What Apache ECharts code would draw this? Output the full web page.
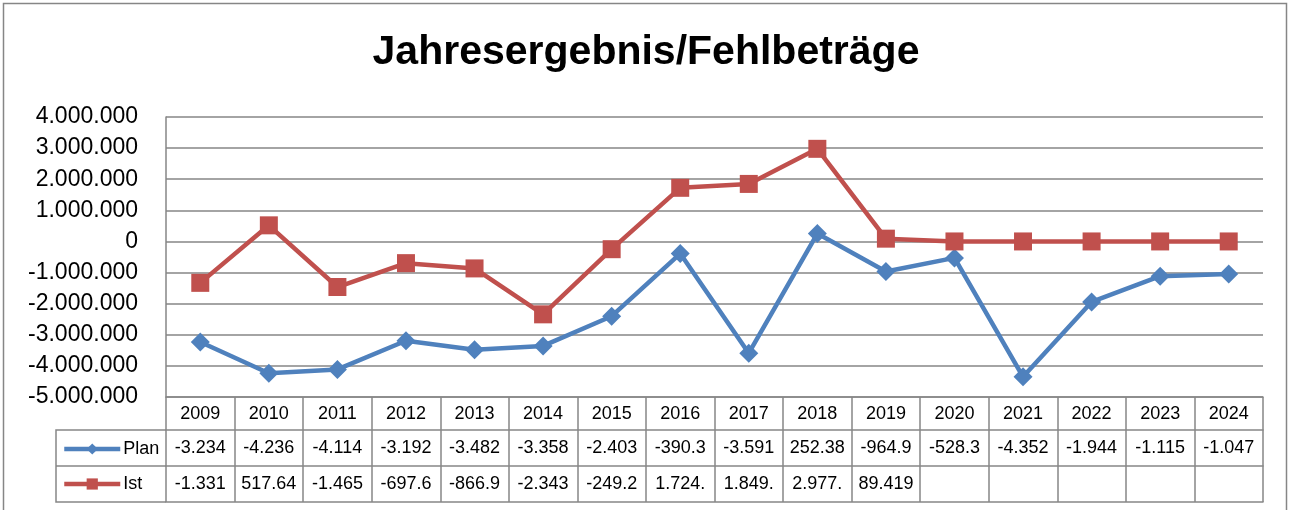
<!DOCTYPE html>
<html>
<head>
<meta charset="utf-8">
<title>Jahresergebnis/Fehlbeträge</title>
<script src="https://cdn.jsdelivr.net/npm/echarts@6/dist/echarts.min.js"></script>
<style>
  * { box-sizing: border-box; margin: 0; padding: 0; }
  html, body { background: #fff; }
  #chart { width: 1292px; height: 510px; }
</style>
</head>
<body>
<div id="chart"></div>
<script>
  // Werte aus der Tabelle unter dem Diagramm
  const years = ['2009', '2010', '2011', '2012', '2013', '2014', '2015', '2016',
                 '2017', '2018', '2019', '2020', '2021', '2022', '2023', '2024'];
  const planValues = [-3234000, -4236000, -4114000, -3192000, -3482000, -3358000, -2403000, -390300,
                      -3591000, 252380, -964900, -528300, -4352000, -1944000, -1115000, -1047000];
  // 2020-2024 sind in der Tabelle leer
  const istValues = [-1331000, 517640, -1465000, -697600, -866900, -2343000, -249200, 1724000,
                     1849000, 2977000, 89419, null, null, null, null, null];
  const yTicks = { min: -5000000, max: 4000000, step: 1000000 };

  const grey = '#868686';
  const blue = '#4F81BD';
  const red = '#C0504D';
  const font = '"Liberation Sans", Arial, sans-serif';

  function groupDe(v) {
    const s = String(Math.abs(v)).replace(/\B(?=(\d{3})+(?!\d))/g, '.');
    return (v < 0 ? '-' : '') + s;
  }
  // Excel schneidet die Zahl in der schmalen Zelle ab
  function cellText(v) {
    if (v === null) return '';
    return groupDe(v).slice(0, 6);
  }

  const chart = echarts.init(document.getElementById('chart'));

  const gridLeft = 166, gridRight = 29, gridTop = 117, gridBottom = 113;
  const axisY = 510 - gridBottom;   // 397
  const rows = [33, 69, 105];       // untere Kanten der Tabellenzeilen

  const tableAxis = (data, offset, tickLen, margin) => ({
    type: 'category',
    data: data,
    position: 'bottom',
    offset: offset,
    boundaryGap: true,
    axisLine: { show: true, onZero: false, lineStyle: { color: grey, width: 1.5 } },
    axisTick: { show: tickLen > 0, length: tickLen, interval: 0, lineStyle: { color: grey, width: 1.5 } },
    axisLabel: {
      show: data.some(d => d !== ''),
      interval: 0, margin: margin, verticalAlign: 'middle',
      color: '#000', fontFamily: font, fontSize: 18
    },
    splitLine: { show: false }
  });

  const legendItem = (name, top) => ({
    data: [name], left: 57, top: top, itemWidth: 56, itemHeight: 14,
    lineStyle: { width: 4.5 },
    textStyle: { fontFamily: font, fontSize: 18, color: '#000', padding: [0, 0, 0, -2] }
  });

  const option = {
    backgroundColor: '#fff',
    animation: false,
    title: {
      text: 'Jahresergebnis/Fehlbeträge',
      left: 'center',
      top: 27,
      textStyle: { fontFamily: font, fontSize: 41, fontWeight: 'bold', color: '#000' }
    },
    legend: [legendItem('Plan', 435), legendItem('Ist', 470)],
    grid: { left: gridLeft, right: gridRight, top: gridTop, bottom: gridBottom, containLabel: false },
    xAxis: [
      tableAxis(years, 0, 33, 17),
      tableAxis(planValues.map(cellText), rows[0], 36, 18),
      tableAxis(istValues.map(cellText), rows[1], 36, 18),
      tableAxis(years.map(() => ''), rows[2], 0, 0)
    ],
    yAxis: {
      type: 'value',
      min: yTicks.min,
      max: yTicks.max,
      interval: yTicks.step,
      axisLine: { show: true, lineStyle: { color: grey, width: 1.5 } },
      axisTick: { show: false },
      splitLine: { lineStyle: { color: grey, width: 1.5 } },
      axisLabel: {
        margin: 28, color: '#000', fontFamily: font, fontSize: 23,
        formatter: v => v === 0 ? '0' : groupDe(v)
      }
    },
    series: [
      {
        name: 'Plan',
        type: 'line',
        xAxisIndex: 0,
        data: planValues,
        symbol: 'diamond',
        symbolSize: 19,
        lineStyle: { color: blue, width: 4.5 },
        itemStyle: { color: blue }
      },
      {
        name: 'Ist',
        type: 'line',
        xAxisIndex: 0,
        // leere Zellen zeichnet Excel als 0
        data: istValues.map(v => v === null ? 0 : v),
        symbol: 'rect',
        symbolSize: 18,
        lineStyle: { color: red, width: 4.5 },
        itemStyle: { color: red }
      }
    ],
    graphic: [
      {
        type: 'rect', silent: true,
        shape: { x: 3.5, y: 3.5, width: 1283, height: 512 },
        style: { fill: 'none', stroke: grey, lineWidth: 1.5 }
      },
      // linke Legendenspalte der Tabelle
      {
        type: 'polyline', silent: true,
        shape: { points: [[gridLeft, axisY + rows[0]], [56, axisY + rows[0]], [56, axisY + rows[2]], [gridLeft, axisY + rows[2]]] },
        style: { fill: 'none', stroke: grey, lineWidth: 1.5 }
      },
      {
        type: 'line', silent: true,
        shape: { x1: 56, y1: axisY + rows[1], x2: gridLeft, y2: axisY + rows[1] },
        style: { stroke: grey, lineWidth: 1.5 }
      }
    ]
  };

  chart.setOption(option);
</script>
</body>
</html>
